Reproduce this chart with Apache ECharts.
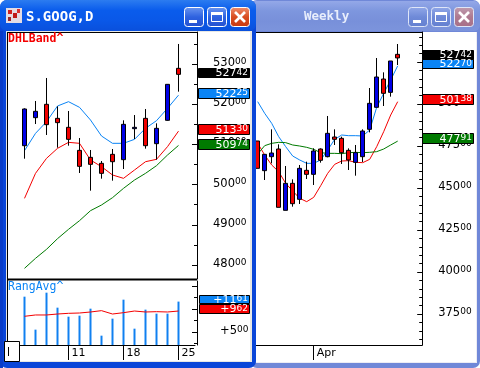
<!DOCTYPE html>
<html>
<head>
<meta charset="utf-8">
<title>S.GOOG</title>
<script src="https://cdn.jsdelivr.net/npm/echarts@6/dist/echarts.min.js"></script>
<style>
  html, body { margin: 0; padding: 0; background: #fff; }
  #chart { width: 480px; height: 368px; }
</style>
</head>
<body>
<div id="chart"></div>
<script>
// daily window, [open, close, low, high]
const dayLabels = ['', '5', '6', '7', '8', '11', '12', '13', '14', '15', '18', '19', '20', '21', '22', '25', '']
const dayCandles = [
  [509.68, 518.81, 506.45, 518.97],
  [516.65, 518.23, 515.07, 520.80],
  [519.97, 514.91, 512.34, 526.52],
  [516.48, 515.41, 509.19, 519.47],
  [514.25, 511.26, 509.68, 518.31],
  [508.52, 504.54, 502.89, 511.59],
  [506.78, 505.04, 498.49, 508.61],
  [505.29, 502.80, 501.48, 505.87],
  [507.53, 505.70, 500.98, 508.86],
  [506.20, 514.99, 503.88, 515.99],
  [513.91, 514.25, 511.34, 517.31],
  [516.48, 509.68, 508.94, 518.81],
  [510.18, 514.00, 506.20, 515.24],
  [515.99, 524.94, 515.90, 525.02],
  [528.92, 527.42, 523.12, 534.98]
]
const dayBlue = [508.44, 512.75, 515.65, 519.55, 520.63, 519.22, 516.07, 512.09, 510.27, 510.27, 511.26, 514.00, 515.90, 518.97, 522.25]
const dayRed = [496.58, 502.80, 506.53, 509.02, 510.51, 510.27, 506.12, 504.46, 502.39, 501.56, 503.63, 505.70, 506.29, 509.44, 513.30]
const dayGreen = [479.17, 481.66, 483.90, 486.55, 488.87, 491.03, 493.52, 494.93, 496.75, 499.07, 501.14, 502.80, 504.71, 507.36, 509.74]
const rangeBars = [1268, 551, 1355, 1029, 833, 855, 1007, 420, 790, 1203, 572, 986, 899, 899, 1161]
const rangeAvg = [841, 870, 870, 891, 906, 913, 935, 964, 891, 920, 956, 935, 942, 935, 956]

// weekly window
const weekLabels = ['', '', '', '', '', '', '', '', 'Apr', '', '', '', '', '', '', '', '', '', '', '', '', '', '', '']
const weekCandles = [
  [477.98, 461.71, 461.71, 477.98],
  [460.32, 470.04, 454.76, 470.04],
  [468.65, 470.83, 464.68, 484.92],
  [473.21, 438.49, 438.49, 475.99],
  [436.71, 452.78, 436.71, 463.10],
  [452.78, 440.67, 438.89, 455.16],
  [443.25, 461.71, 440.48, 463.69],
  [460.52, 458.13, 455.36, 465.67],
  [458.13, 472.02, 451.79, 473.61],
  [473.21, 466.47, 465.08, 473.61],
  [468.65, 482.54, 468.25, 492.86],
  [480.36, 478.97, 475.60, 484.92],
  [479.56, 471.03, 464.29, 480.56],
  [472.42, 466.67, 460.71, 473.61],
  [465.28, 471.03, 457.34, 475.60],
  [468.65, 483.93, 465.50, 484.92],
  [484.92, 500.40, 483.13, 509.52],
  [498.02, 516.07, 498.02, 527.38],
  [514.88, 506.35, 498.81, 518.85],
  [506.94, 525.60, 504.37, 525.60],
  [529.56, 527.42, 523.21, 535.71]
]
const weekBlue = [501.40, 494.44, 488.50, 480.56, 474.60, 469.05, 466.67, 464.68, 464.68, 466.67, 472.62, 478.97, 481.55, 481.15, 481.15, 480.95, 484.52, 498.02, 506.35, 514.29, 522.70]
const weekRed = [476.59, 469.64, 463.69, 459.72, 452.78, 448.21, 443.85, 441.87, 444.44, 451.39, 458.73, 464.09, 466.07, 466.27, 465.28, 465.08, 467.06, 474.60, 483.53, 493.45, 501.38]
const weekGreen = [470.24, 475.20, 476.59, 477.18, 477.00, 475.60, 475.00, 474.21, 473.02, 471.03, 470.63, 470.63, 470.43, 471.03, 471.23, 471.03, 471.23, 471.63, 473.21, 475.60, 477.91]

const dayTicks = [480, 490, 500, 510, 520, 530]
const dayMinorTicks = [485, 495, 505, 515, 525, 535]
const rangeTicks = [500, 1000, 1500]
const rangeLabels = [500]
const rangeMinorTicks = [250, 750, 1250]
const weekTicks = [375, 400, 425, 450, 475, 500, 525]
const weekMinorTicks = [360, 365, 370, 380, 385, 390, 395, 405, 410, 415, 420, 430, 435, 440, 445, 455, 460, 465, 470, 480, 485, 490, 495, 505, 510, 515, 520, 530, 535, 540]

const BLUE = '#0a84f5'
const RED = '#f40000'
const GREEN = '#007a00'
const Z_WEEK = 1
const Z_LEFT_WINDOW = 2
const Z_DAY = 3
const Z_TOP = 6

const chart = echarts.init(document.getElementById('chart'), null, {renderer: 'canvas'})

const vGrad = (...stops) => new echarts.graphic.LinearGradient(0, 0, 0, 1,
  stops.map((color, i) => ({offset: i / (stops.length - 1), color})))

function box(x, y, width, height, fill, z, extra = {}) {
  return {
    type: 'rect', z, silent: true,
    shape: {x, y, width, height, r: extra.r || 0},
    style: {fill, stroke: extra.stroke || null, lineWidth: extra.lineWidth || 1}
  }
}

function seg(x1, y1, x2, y2, stroke, z, lineWidth = 1) {
  return {type: 'line', z, silent: true, shape: {x1, y1, x2, y2}, style: {stroke, lineWidth}}
}

function label(x, y, text, font, fill, z, extra = {}) {
  return {
    type: 'text', z, silent: true, x, y,
    style: Object.assign({text, font, fill, verticalAlign: 'middle'}, extra)
  }
}

const tagRich = {
  a: {fontFamily: 'DejaVu Sans', fontSize: 11, fill: '#fff', verticalAlign: 'bottom', lineHeight: 11},
  b: {fontFamily: 'DejaVu Sans', fontSize: 9, fill: '#fff', verticalAlign: 'top', lineHeight: 11}
}

function priceTag(x, y, width, height, fill, big, small) {
  return [
    box(x + 0.5, y + 0.5, width, height, fill, Z_TOP, {stroke: '#000'}),
    {
      type: 'text', z: Z_TOP + 1, silent: true, x: x + width - 1, y: y + height / 2 + 1,
      style: {text: `{a|${big}}{b|${small}}`, rich: tagRich, align: 'right', verticalAlign: 'middle'}
    }
  ]
}

function titleButtons(x, y, active, z) {
  const blueFill = active ? vGrad('#6a96f0', '#2e62e0', '#2450d0') : vGrad('#92a8e8', '#6f8ad8', '#6480d0')
  const redFill = active ? vGrad('#f09070', '#d84c20', '#c83810') : vGrad('#c09cb0', '#ae7a90', '#a87088')
  const edge = active ? '#fff' : '#dfe6f8'
  const w = 19
  const step = 23
  return [
    box(x + 0.5, y + 0.5, w, w, blueFill, z, {stroke: edge, r: 3}),
    box(x + 5, y + 13, 8, 3, '#fff', z),
    box(x + step + 0.5, y + 0.5, w, w, blueFill, z, {stroke: edge, r: 3}),
    box(x + step + 4.5, y + 5.5, 11, 9, null, z, {stroke: '#fff'}),
    box(x + step + 4, y + 5, 12, 3, '#fff', z),
    box(x + 2 * step + 0.5, y + 0.5, w, w, redFill, z, {stroke: edge, r: 3}),
    seg(x + 2 * step + 5, y + 5, x + 2 * step + 15, y + 15, '#fff', z, 2.6),
    seg(x + 2 * step + 15, y + 5, x + 2 * step + 5, y + 15, '#fff', z, 2.6)
  ]
}

// window frames, tags and captions
function buildChrome() {
  const z = Z_LEFT_WINDOW
  const back = -2
  return [
    // weekly (inactive) window
    box(250, 0, 230, 368, '#7088d8', back, {r: 7}),
    box(250, 1, 230, 30, vGrad('#94a8e8', '#7d96de', '#7890da', '#7c94dc'), back, {r: 6}),
    box(256, 32, 221, 331, '#ececf4', back),
    box(256, 32, 220, 330, '#fff', back),
    label(304, 17, 'Weekly', 'bold 12.5px "DejaVu Sans Mono"', '#e8eefc', back),
    ...titleButtons(408, 7, false, back),

    // daily (active) window, on top of the weekly one
    box(0, 0, 256, 368, '#0a46d8', z, {r: 7}),
    box(0, 0, 256, 31, vGrad('#2c7cf0', '#0a5cec', '#0a58e8', '#0a50dc'), z, {r: 7}),
    box(0, 31, 3, 337, '#0a3cc8', z),
    box(6, 31, 246, 331, '#e8e8e4', z),
    box(7, 32, 243, 329, '#fff', z),
    box(6, 8, 16, 15, '#e4dce4', z),
    box(8, 10, 4, 4, '#d02020', z),
    box(13, 13, 4, 5, '#c01818', z),
    box(17, 9, 3, 4, '#d83030', z),
    box(8, 17, 3, 4, '#a02828', z),
    label(26, 17, 'S.GOOG,D', 'bold 14px "DejaVu Sans Mono"', '#fff', z),
    ...titleButtons(184, 7, true, z),

    // plot frames
    seg(7, 32.5, 197, 32.5, '#000', Z_TOP - 1),
    seg(7.5, 32, 7.5, 345, '#000', Z_TOP - 1),
    seg(7, 279.5, 197, 279.5, '#000', Z_TOP - 1, 2),
    seg(256, 32.5, 422, 32.5, '#000', Z_WEEK),
    seg(256, 345.5, 422, 345.5, '#000', Z_WEEK),

    label(8, 39, 'DHLBand^', 'bold 11.5px "DejaVu Sans Mono"', '#f40000', Z_TOP),
    label(8, 287, 'RangAvg^', '11.5px "DejaVu Sans Mono"', '#0a84f5', Z_TOP),

    // scroll box, bottom left
    box(4.5, 341.5, 15, 20, '#fff', Z_TOP, {stroke: '#000'}),
    seg(8.5, 347, 8.5, 356, '#000', Z_TOP),

    ...priceTag(198, 68, 51, 9, '#000', '527', '42'),
    ...priceTag(198, 88, 51, 10, BLUE, '522', '25'),
    ...priceTag(198, 124, 51, 10, RED, '513', '30'),
    ...priceTag(198, 139, 51, 10, GREEN, '509', '74'),
    ...priceTag(199, 295, 50, 8, BLUE, '+11', '61'),
    ...priceTag(199, 304, 50, 9, RED, '+9', '62'),

    ...priceTag(422, 50, 51, 9, '#000', '527', '42'),
    ...priceTag(422, 59, 51, 9, BLUE, '522', '70'),
    ...priceTag(422, 94, 51, 10, RED, '501', '38'),
    ...priceTag(422, 133, 51, 10, GREEN, '477', '91')
  ]
}

const axisRich = {
  a: {fontFamily: 'DejaVu Sans', fontSize: 11.5, color: '#000', verticalAlign: 'bottom', lineHeight: 12},
  b: {fontFamily: 'DejaVu Sans', fontSize: 9, color: '#000', verticalAlign: 'top', lineHeight: 12}
}

function priceAxis(gridIndex, min, max, ticks, labels, offset, z, fmt, margin) {
  return {
    type: 'value', gridIndex, position: 'right', min, max, offset, z,
    splitLine: {show: false},
    axisLine: {show: true, onZero: false, lineStyle: {color: '#000', width: 1}},
    axisTick: {show: true, inside: true, length: 5, customValues: ticks, lineStyle: {color: '#000'}},
    axisLabel: {
      show: true, customValues: labels, margin, align: 'left', rich: axisRich,
      padding: [0, 0, 2, 0], formatter: fmt, hideOverlap: false
    }
  }
}

function minorAxis(gridIndex, min, max, ticks, offset, z) {
  return {
    type: 'value', gridIndex, position: 'right', min, max, offset, z,
    splitLine: {show: false},
    axisLine: {show: false},
    axisLabel: {show: false},
    axisTick: {show: true, inside: true, length: 3, customValues: ticks, lineStyle: {color: '#000'}}
  }
}

function timeAxis(gridIndex, data, marks, z, showLine) {
  const isMark = i => marks.includes(i)
  return {
    type: 'category', gridIndex, data, z,
    position: 'bottom',
    axisLine: {show: showLine, onZero: false, lineStyle: {color: '#000', width: 1}},
    axisTick: {show: showLine, alignWithLabel: true, interval: isMark, length: 15, lineStyle: {color: '#000'}},
    axisLabel: {
      show: showLine, interval: isMark, align: 'left', margin: 3,
      padding: [0, 0, 0, 3], color: '#000', fontFamily: 'DejaVu Sans', fontSize: 11
    },
    splitLine: {show: false}
  }
}

const fmtPrice = v => `{a|${v}}{b|00}`
const fmtRange = v => `{a|+${v / 100}}{b|00}`

// a blank band in front of the daily candles
const padDay = arr => ['-', ...arr, '-']

function candle(name, data, xAxisIndex, yAxisIndex, barWidth, z) {
  return {
    name, type: 'candlestick', data, xAxisIndex, yAxisIndex, barWidth, z,
    itemStyle: {
      color: '#0000e6', color0: '#f00000', borderColor: '#000', borderColor0: '#000',
      borderColorDoji: '#000', borderWidth: 1
    }
  }
}

function line(name, data, color, xAxisIndex, yAxisIndex, z) {
  return {
    name, type: 'line', data, xAxisIndex, yAxisIndex, z,
    showSymbol: false, symbol: 'none', smooth: false, animation: false,
    lineStyle: {color, width: 1}
  }
}

chart.setOption({
  animation: false,
  backgroundColor: '#fff',
  textStyle: {fontFamily: 'DejaVu Sans'},
  grid: [
    {left: 8, top: 32, width: 187, height: 247},
    {left: 8, top: 281, width: 187, height: 64},
    {left: 254.2, top: 32, width: 168, height: 313}
  ],
  xAxis: [
    timeAxis(0, dayLabels, [], Z_DAY, false),
    timeAxis(1, dayLabels, [5, 10, 15], Z_TOP - 1, true),
    timeAxis(2, weekLabels, [8], Z_WEEK, true)
  ],
  yAxis: [
    priceAxis(0, 476.52, 537.96, dayTicks, dayTicks, 2, Z_TOP - 1, fmtPrice, 16),
    minorAxis(0, 476.52, 537.96, dayMinorTicks, 2, Z_TOP - 1),
    priceAxis(1, 217, 1609, rangeTicks, rangeLabels, 2, Z_TOP - 1, fmtRange, 23),
    minorAxis(1, 217, 1609, rangeMinorTicks, 2, Z_TOP - 1),
    priceAxis(2, 356.55, 542.86, weekTicks, weekTicks, 0, Z_WEEK, fmtPrice, 16),
    minorAxis(2, 356.55, 542.86, weekMinorTicks, 0, Z_WEEK)
  ],
  series: [
    line('Blue', padDay(dayBlue), BLUE, 0, 0, Z_DAY),
    line('Red', padDay(dayRed), RED, 0, 0, Z_DAY),
    line('Green', padDay(dayGreen), GREEN, 0, 0, Z_DAY),
    candle('S.GOOG', padDay(dayCandles), 0, 0, 5, Z_DAY + 1),
    {
      name: 'RangAvg', type: 'bar', data: padDay(rangeBars), xAxisIndex: 1, yAxisIndex: 2,
      barWidth: 2, z: Z_DAY, itemStyle: {color: '#1080f0'}
    },
    line('RangAvgLine', padDay(rangeAvg), RED, 1, 2, Z_DAY + 1),
    line('WeekBlue', weekBlue, BLUE, 2, 4, Z_WEEK),
    line('WeekRed', weekRed, RED, 2, 4, Z_WEEK),
    line('WeekGreen', weekGreen, GREEN, 2, 4, Z_WEEK),
    candle('Weekly', weekCandles, 2, 4, 4, Z_WEEK)
  ],
  graphic: {elements: buildChrome()}
})
</script>
</body>
</html>
